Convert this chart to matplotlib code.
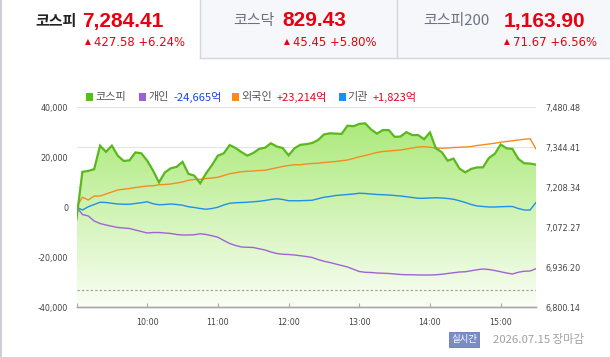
import numpy as np
import matplotlib
matplotlib.use("Agg")
import matplotlib.pyplot as plt
from matplotlib.patches import Rectangle, Polygon

plt.rcParams['font.family'] = ['Noto Sans CJK KR', 'DejaVu Sans']

# ---------------- data ----------------
minutes = np.arange(0, 391, 5)  # minutes after 09:00, 5-minute samples

kospi = [7100, 7260, 7263, 7269, 7349, 7328, 7349, 7315, 7297, 7299,
         7326, 7323, 7298, 7264, 7224, 7258, 7272, 7277, 7294, 7253,
         7247, 7221, 7255, 7283, 7315, 7323, 7351, 7341, 7327, 7315,
         7324, 7338, 7342, 7357, 7346, 7341, 7316, 7340, 7352, 7354,
         7358, 7368, 7387, 7391, 7390, 7389, 7417, 7415, 7423, 7425,
         7404, 7390, 7402, 7402, 7379, 7380, 7395, 7385, 7385, 7371,
         7394, 7340, 7327, 7298, 7305, 7271, 7258, 7270, 7275, 7275,
         7307, 7321, 7353, 7340, 7338, 7304, 7289, 7288, 7284.41]

individual = [0, -3000, -3600, -5600, -6600, -7200, -7700, -8200, -8400, -8600,
              -9200, -9800, -10400, -10200, -10200, -10400, -10600, -11000, -11200, -11200,
              -11100, -10700, -11000, -11500, -12100, -13400, -14600, -15400, -16000, -16100,
              -16200, -16700, -17200, -18000, -18600, -18900, -19000, -19200, -19500, -19800,
              -20200, -21000, -21700, -22200, -22800, -23400, -24000, -24900, -25800, -26100,
              -26200, -26400, -26500, -26600, -26800, -27000, -27100, -27100, -27200, -27200,
              -27200, -27100, -26900, -26600, -26300, -26000, -25900, -25500, -25100, -24800,
              -25000, -25400, -25900, -26400, -26800, -26100, -25700, -25600, -24665]

foreign = [0, 3900, 2800, 4400, 4400, 5200, 6000, 6800, 7100, 7400,
           7800, 8100, 8400, 8500, 8900, 9000, 9200, 9600, 10000, 10700,
           11000, 11100, 11400, 11600, 11900, 12600, 13300, 13700, 14100, 14300,
           14400, 14600, 14700, 15200, 15700, 16200, 16600, 16900, 16900, 17200,
           17400, 17500, 17800, 18000, 18200, 18500, 18800, 19400, 20100, 20600,
           21200, 21800, 22200, 22400, 22600, 22800, 23200, 23600, 24000, 24100,
           23900, 23600, 23500, 23600, 23800, 23900, 24000, 24200, 24600, 24900,
           25200, 25500, 25900, 26200, 26500, 26800, 27100, 27300, 23214]

institution = [0, -1200, 100, 1000, 1900, 1800, 1500, 1200, 1100, 1100,
               1400, 1700, 2100, 1300, 900, 1000, 1200, 1000, 700, 100,
               -200, -600, -900, -600, -100, 800, 1500, 1700, 1800, 1900,
               2100, 2300, 2600, 3000, 3300, 3000, 2500, 2500, 2500, 2600,
               2700, 3300, 3900, 4200, 4600, 4800, 5000, 5200, 5500, 5400,
               5200, 5000, 4900, 4800, 4600, 4400, 4100, 3800, 3500, 3500,
               3600, 3700, 3600, 3400, 3100, 2500, 1800, 1000, 400, 200,
               0, 0, 100, 200, 200, -600, -1200, -1200, 1823]

prev_close = 6856.83
right_ticks = [6800.14, 6936.20, 7072.27, 7208.34, 7344.41, 7480.48]
left_ticks = [-40000, -20000, 0, 20000, 40000]
hour_ticks = [0, 60, 120, 180, 240, 300, 360]
hour_labels = ['', '10:00', '11:00', '12:00', '13:00', '14:00', '15:00']

tabs = [("코스피", "7,284.41", "427.58 +6.24%"),
        ("코스닥", "829.43", "45.45 +5.80%"),
        ("코스피200", "1,163.90", "71.67 +6.56%")]
legend_items = [("코스피", "", "#55c01b", None),
                ("개인", "-24,665억", "#9c5fd6", "#1a44e6"),
                ("외국인", "+23,214억", "#f98a1b", "#e8001c"),
                ("기관", "+1,823억", "#1c8ef0", "#e8001c")]

# ---------------- figure ----------------
W, H = 610, 357
fig = plt.figure(figsize=(W / 100, H / 100), dpi=100)
fig.patch.set_facecolor('white')


def fx(x):
    return x / W


def fy(y):
    return 1 - y / H


# header tabs
fig.patches.append(Rectangle((fx(200), fy(58)), fx(410), 58 / H, transform=fig.transFigure,
                             facecolor='#f6f7fa', edgecolor='none', zorder=0))
for xline in [200, 397]:
    fig.add_artist(plt.Line2D([fx(xline), fx(xline)], [fy(0), fy(58)], transform=fig.transFigure,
                              color='#d3d6de', lw=1))
fig.add_artist(plt.Line2D([fx(200), fx(610)], [fy(58), fy(58)], transform=fig.transFigure,
                          color='#d3d6de', lw=1))
fig.add_artist(plt.Line2D([fx(1), fx(1)], [fy(0), fy(357)], transform=fig.transFigure,
                          color='#c3c6d0', lw=1.2))

name_x = [35, 233, 423]
val_x = [82, 282, 504]
chg_x = [85, 284, 504]
name_col = ['#222222', '#6b7185', '#6b7185']
for i, (nm, val, chg) in enumerate(tabs):
    fig.text(fx(name_x[i]), fy(21), nm, ha='left', va='center', fontsize=10.8,
             color=name_col[i], fontweight='bold' if i == 0 else 'normal',
             family=['Noto Sans CJK KR', 'DejaVu Sans'])
    fig.text(fx(val_x[i]), fy(21), val, ha='left', va='center', fontsize=15,
             color='#e8000f', fontweight='bold', family=['Liberation Sans'])
    fig.text(fx(chg_x[i]), fy(42), "▲", ha='left', va='center', fontsize=5.5,
             color='#e8000f', family=['DejaVu Sans'])
    fig.text(fx(chg_x[i] + 9), fy(42), chg, ha='left', va='center', fontsize=8.4,
             color='#e8000f', family=['DejaVu Sans'])

# legend
leg_sq_x = [86, 139, 232, 339]
leg_lab_x = [95, 148, 241, 347]
leg_val_x = [None, 173, 277, 373]
for i, (lab, val, col, vcol) in enumerate(legend_items):
    fig.patches.append(Rectangle((fx(leg_sq_x[i]), fy(100.5)), 7 / W, 7 / H,
                                 transform=fig.transFigure, facecolor=col, edgecolor='none'))
    fig.text(fx(leg_lab_x[i]), fy(97), lab, ha='left', va='center', fontsize=8,
             color='#555555')
    if val:
        fig.text(fx(leg_val_x[i]), fy(97), val, ha='left', va='center', fontsize=8,
                 color=vcol)

# axes
ax = fig.add_axes([fx(76.5), fy(307), (536 - 76.5) / W, 200 / H])
ax2 = ax.twinx()
ax.set_zorder(2)
ax2.set_zorder(1)
ax.patch.set_visible(False)

ax2.set_xlim(0, 390)
ax2.set_ylim(right_ticks[0], right_ticks[-1])
ax.set_ylim(-40000, 40000)
ax.set_xlim(0, 390)

# gradient fill under kospi
top_c = np.array([165, 232, 112]) / 255
bot_c = np.array([250, 254, 245]) / 255
fr = np.linspace(0, 1, 256)[:, None]
grad = bot_c[None, :] * (1 - fr) + top_c[None, :] * fr
grad = np.repeat(grad[:, None, :], 2, axis=1)
im = ax2.imshow(grad, extent=[0, 390, right_ticks[0], right_ticks[-1]], origin='lower',
                aspect='auto', zorder=1, interpolation='bilinear')
verts = [(minutes[0], right_ticks[0])] + list(zip(minutes, kospi)) + [(minutes[-1], right_ticks[0])]
poly = Polygon(verts, closed=True, facecolor='none', edgecolor='none', transform=ax2.transData)
ax2.add_patch(poly)
im.set_clip_path(poly)
ax2.set_xlim(0, 390)
ax2.set_ylim(right_ticks[0], right_ticks[-1])

ax2.axhline(prev_close, color='#9a9a9a', lw=0.8, ls=(0, (2, 2)), zorder=2)

# grid
ax2.set_yticks(right_ticks)
ax2.set_yticklabels([f"{v:,.2f}" for v in right_ticks])
ax2.set_xticks(hour_ticks)
ax2.grid(True, color='#e4e4e4', lw=0.8, zorder=0)
ax2.set_axisbelow(True)

# series lines
ax.plot(minutes, individual, color='#a064d2', lw=1.0, zorder=3)
ax.plot(minutes, institution, color='#1e90e8', lw=1.0, zorder=3)
ax.plot(minutes, foreign, color='#f58c1e', lw=1.0, zorder=3)
ax.plot(minutes, kospi, color='#5ab81e', lw=1.6, zorder=4, transform=ax2.transData,
        solid_joinstyle='miter')

ax.set_yticks(left_ticks)
ax.set_yticklabels([f"{v:,}" for v in left_ticks])
ax.set_xticks(hour_ticks)
ax.set_xticklabels(hour_labels)

for a in (ax, ax2):
    for s in ['top', 'left', 'right']:
        a.spines[s].set_visible(False)
    a.spines['bottom'].set_color('#a8a8a8')
    a.spines['bottom'].set_linewidth(1.0)

ax.tick_params(axis='y', length=0, pad=6, labelsize=5.8, labelcolor='#444444')
ax2.tick_params(axis='y', length=0, pad=6.5, labelsize=5.8, labelcolor='#444444')
ax.tick_params(axis='x', direction='in', length=3, width=0.8, color='#a8a8a8', pad=8,
               labelsize=5.8, labelcolor='#444444')
ax2.tick_params(axis='x', length=0, labelbottom=False)
for lab in ax.get_yticklabels() + ax2.get_yticklabels() + ax.get_xticklabels():
    lab.set_family(['DejaVu Sans'])

# footer
fig.patches.append(Rectangle((fx(449), fy(347)), 30 / W, 15 / H, transform=fig.transFigure,
                             facecolor='#7a8cc4', edgecolor='#6a7cb4', lw=0.6))
fig.text(fx(464), fy(339.5), "실시간", ha='center', va='center', fontsize=6.8, color='white')
fig.text(fx(493), fy(339.5), "2026.07.15 장마감", ha='left', va='center', fontsize=8.2,
         color='#a0a0a0')

fig.savefig("out.png", dpi=100, facecolor='white')
